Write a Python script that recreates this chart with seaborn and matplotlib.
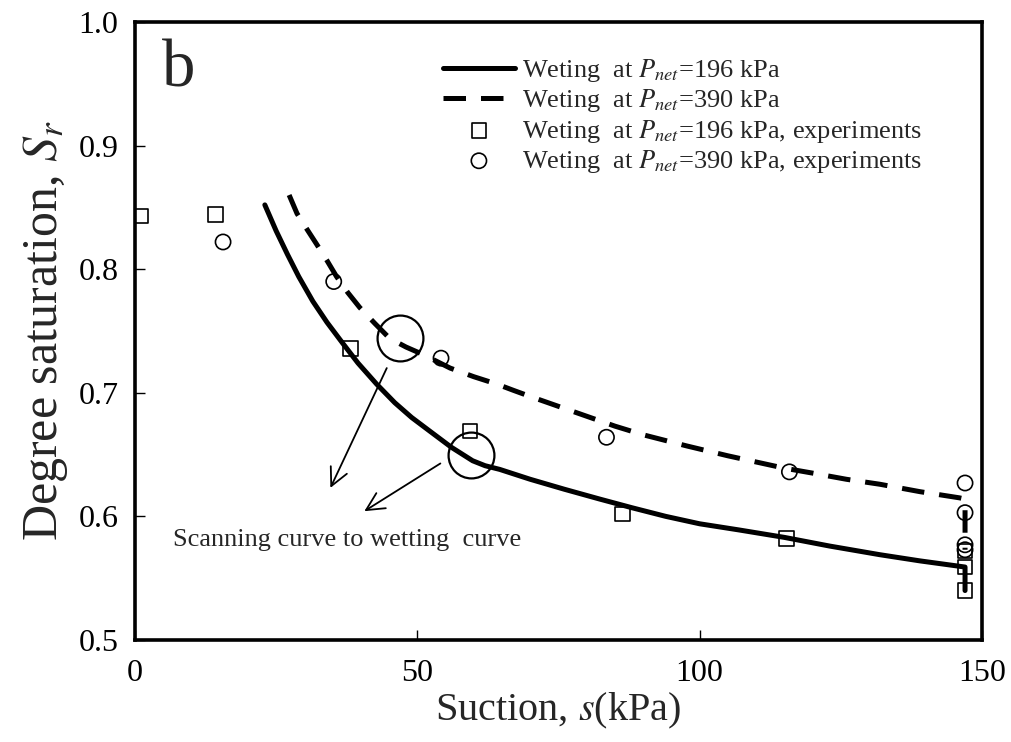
import numpy as np
import pandas as pd
import seaborn as sns
import matplotlib.pyplot as plt

# model curves
s_196 = [23.0, 25.0, 27.0, 29.0, 31.5, 34.0, 36.8, 39.5, 42.8, 46.0, 49.0, 52.2, 56.0, 59.8,
         62.0, 64.6, 70.0, 76.0, 82.3, 88.0, 94.0, 100.0, 107.0, 115.0, 123.0, 131.9,
         139.0, 147.0, 147.0]
sr_196 = [0.852, 0.831, 0.812, 0.794, 0.774, 0.757, 0.740, 0.724, 0.707, 0.692, 0.680, 0.669,
          0.656, 0.645, 0.641, 0.638, 0.630, 0.622, 0.614, 0.607, 0.600, 0.594, 0.589, 0.583,
          0.576, 0.569, 0.564, 0.559, 0.540]

s_390 = [27.3, 28.7, 30.5, 32.2, 34.0, 35.7, 37.7, 39.8, 42.5, 45.1, 48.0, 51.0, 55.8, 60.0,
         64.1, 67.0, 70.0, 75.0, 80.0, 85.0, 90.0, 97.7, 105.0, 110.0, 115.0, 120.0, 126.0,
         131.9, 139.0, 146.0, 147.0, 147.0]
sr_390 = [0.860, 0.845, 0.832, 0.820, 0.807, 0.794, 0.781, 0.769, 0.756, 0.744, 0.737, 0.731,
          0.720, 0.713, 0.707, 0.702, 0.697, 0.689, 0.681, 0.673, 0.666, 0.657, 0.649, 0.644,
          0.639, 0.635, 0.630, 0.626, 0.620, 0.615, 0.614, 0.573]

# experiments
exp_s_196 = [1.1, 14.3, 38.2, 59.3, 86.3, 115.4, 147.0, 147.0, 147.0]
exp_sr_196 = [0.843, 0.844, 0.736, 0.669, 0.602, 0.582, 0.572, 0.559, 0.540]
exp_s_390 = [15.6, 35.2, 54.2, 83.5, 115.9, 147.0, 147.0, 147.0, 147.0]
exp_sr_390 = [0.822, 0.790, 0.728, 0.664, 0.636, 0.627, 0.603, 0.577, 0.573]

# highlighted points and arrows
ring_s = [46.9, 59.5]
ring_sr = [0.744, 0.650]
arrow_from = [(44.8, 0.722), (54.5, 0.644)]
arrow_to = [(34.4, 0.621), (40.2, 0.603)]

sns.set_style("ticks")
plt.rcParams['font.family'] = ['Liberation Serif', 'DejaVu Serif']
plt.rcParams['mathtext.fontset'] = 'stix'

fig = plt.figure(figsize=(10.11, 7.42), dpi=100)
ax = fig.add_axes([0.1335, 0.1375, 0.8378, 0.8329])

sns.lineplot(x=s_196, y=sr_196, ax=ax, sort=False, estimator=None, color='black',
             lw=3.6, label=r'Weting  at $P_{net}$=196 kPa')
sns.lineplot(x=s_390, y=sr_390, ax=ax, sort=False, estimator=None, color='black',
             lw=3.6, linestyle=(0, (4.5, 3)), label=r'Weting  at $P_{net}$=390 kPa')
sns.scatterplot(x=exp_s_196, y=exp_sr_196, ax=ax, marker='s', s=110, facecolor='none',
                edgecolor='black', linewidth=1.2, label=r'Weting  at $P_{net}$=196 kPa, experiments')
sns.scatterplot(x=exp_s_390, y=exp_sr_390, ax=ax, marker='o', s=120, facecolor='none',
                edgecolor='black', linewidth=1.2, label=r'Weting  at $P_{net}$=390 kPa, experiments')

ax.plot(ring_s, ring_sr, 'o', ms=33, mfc='none', mec='black', mew=1.6, ls='none')
for (x0, y0), (x1, y1) in zip(arrow_from, arrow_to):
    ax.annotate('', xy=(x1, y1), xytext=(x0, y0),
                arrowprops=dict(arrowstyle='->', color='black', lw=1.3, mutation_scale=32))

ax.text(6.7, 0.581, 'Scanning curve to wetting  curve', fontsize=19, va='center', ha='left')
ax.text(4.8, 0.961, 'b', fontsize=48, va='center', ha='left')

ax.set_xlim(0, 150)
ax.set_ylim(0.5, 1.0)
ax.set_xticks([0, 50, 100, 150])
ax.set_yticks(np.arange(0.5, 1.01, 0.1))
ax.set_yticklabels(['0.5', '0.6', '0.7', '0.8', '0.9', '1.0'])
ax.tick_params(direction='in', length=7, width=1, labelsize=23, colors='black')
ax.tick_params(axis='x', pad=14)
ax.tick_params(axis='y', pad=12)
for sp in ax.spines.values():
    sp.set_linewidth(2.6)
    sp.set_color('black')

ax.set_xlabel(r'Suction, $s$(kPa)', fontsize=29, labelpad=2)
ax.set_ylabel(r'Degree saturation, $S_r$', fontsize=36, labelpad=6)

ax.legend(loc='upper left', bbox_to_anchor=(0.364, 0.943), frameon=False, fontsize=19,
          borderpad=0, borderaxespad=0, handlelength=2.7, handletextpad=0.3,
          labelspacing=0.12)

fig.savefig('out.png', dpi=100)
